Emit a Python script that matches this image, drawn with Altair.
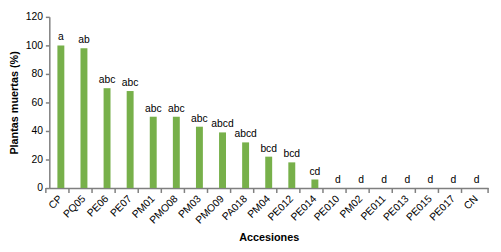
import altair as alt
import pandas as pd

categories = ["CP", "PQ05", "PE06", "PE07", "PM01", "PMO08", "PM03", "PMO09", "PA018",
              "PM04", "PE012", "PE014", "PE010", "PM02", "PE011", "PE013", "PE015", "PE017", "CN"]
values = [100, 98, 70, 68, 50, 50, 43, 39, 32, 22, 18, 6, 0, 0, 0, 0, 0, 0, 0]
letters = ["a", "ab", "abc", "abc", "abc", "abc", "abc", "abcd", "abcd", "bcd", "bcd", "cd",
           "d", "d", "d", "d", "d", "d", "d"]
y_ticks = [0, 20, 40, 60, 80, 100, 120]

df = pd.DataFrame({"cat": categories, "val": values, "lab": letters})

W, H = 446, 174
step = W / len(categories)
FONT = "Liberation Sans"
AXC = "#7f7f7f"

xaxis = alt.Axis(title="Accesiones", labelAngle=-45, labelAlign="right", labelBaseline="middle",
                 ticks=False, domainColor=AXC, domainWidth=1.5, labelFont=FONT, labelFontSize=10.5,
                 labelColor="#000", labelPadding=9, labelOverlap=False, titleFont=FONT,
                 titleFontSize=11, titleFontWeight="bold", titleColor="#000", titlePadding=6)
yaxis = alt.Axis(title="Plantas muertas (%)", values=y_ticks, grid=False, domainColor=AXC,
                 domainWidth=1.5, tickColor=AXC, tickSize=4, tickWidth=1.5, labelFont=FONT,
                 labelFontSize=10.5, labelColor="#000", labelPadding=3, labelOverlap=False,
                 labelFlush=False, titleFont=FONT, titleFontSize=11, titleFontWeight="bold",
                 titleColor="#000", titlePadding=6)
xscale = alt.Scale(paddingInner=0.7, paddingOuter=0.35)
yscale = alt.Scale(domain=[0, 120])

def X():
    return alt.X("cat:N", sort=categories, scale=xscale, axis=xaxis)

def Y():
    return alt.Y("val:Q", scale=yscale, axis=yaxis)

base = alt.Chart(df)
bars = base.mark_bar(color="#77B04A").encode(x=X(), y=Y())
text = base.mark_text(dy=-8, font=FONT, fontSize=10.5, color="#000").encode(
    x=X(), y=Y(), text="lab:N")
ticks = base.mark_rule(color=AXC, strokeWidth=1.5).encode(
    x=X(), xOffset=alt.value(-step / 2), y=alt.value(H), y2=alt.value(H + 5))
end_tick = alt.Chart(pd.DataFrame({"a": [0]})).mark_rule(color=AXC, strokeWidth=1.5).encode(
    x=alt.value(W), y=alt.value(H), y2=alt.value(H + 5))

chart = alt.layer(bars, text, ticks, end_tick).properties(
    width=W, height=H, autosize="none", background="white",
    padding={"left": 42, "top": 7, "right": 5, "bottom": 63}
).configure_view(stroke=None)

chart.save("out.html", embed_options={"renderer": "svg", "actions": False})
